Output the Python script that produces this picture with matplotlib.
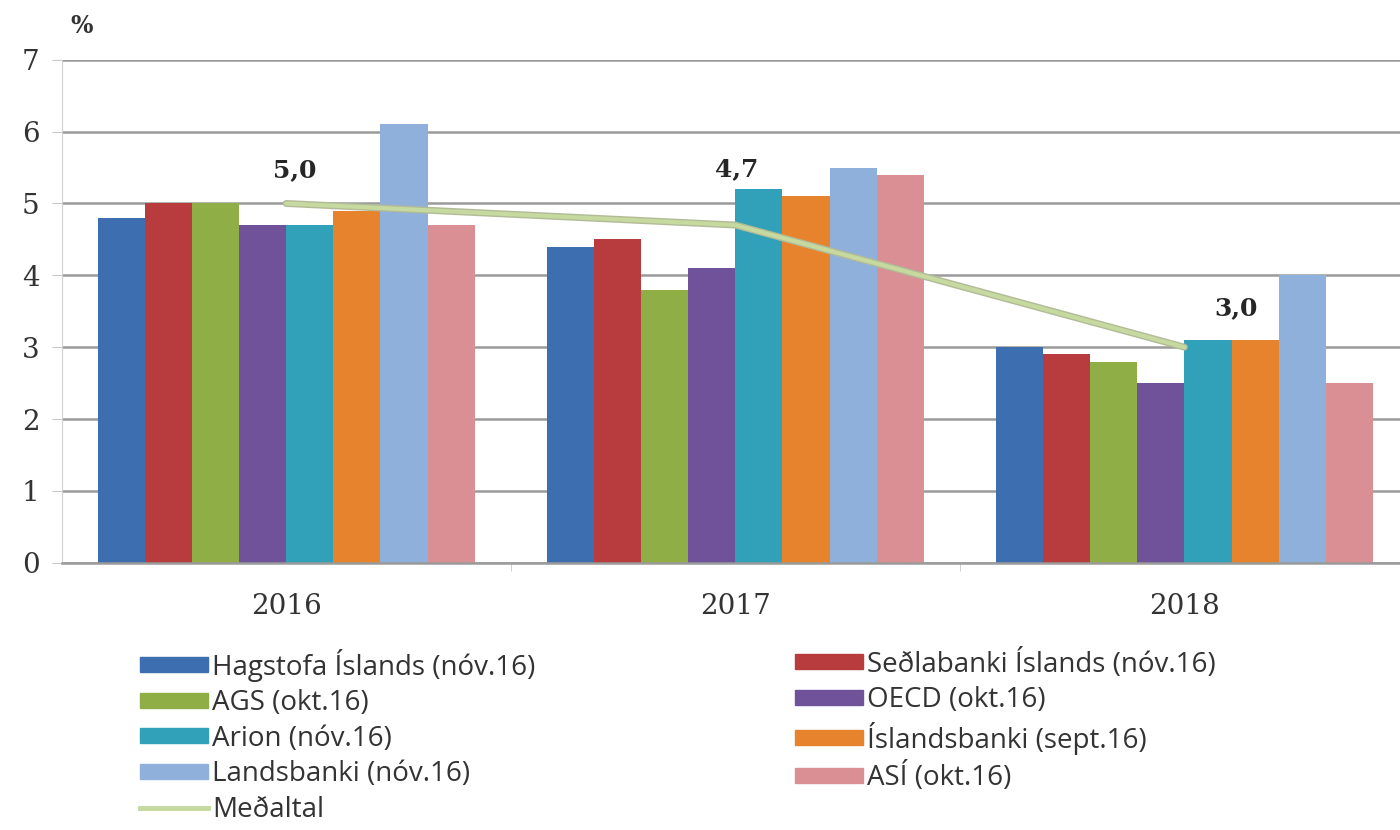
import numpy as np
import matplotlib.pyplot as plt
from matplotlib.patches import Patch
from matplotlib.lines import Line2D

#Gögn lesin af myndinni
years = ['2016', '2017', '2018']
series = ['Hagstofa Íslands (nóv.16)', 'Seðlabanki Íslands (nóv.16)', 'AGS (okt.16)',
          'OECD (okt.16)', 'Arion (nóv.16)', 'Íslandsbanki (sept.16)',
          'Landsbanki (nóv.16)', 'ASÍ (okt.16)']
hagstofa = [4.8, 4.4, 3.0]
sedlabanki = [5.0, 4.5, 2.9]
ags = [5.0, 3.8, 2.8]
oecd = [4.7, 4.1, 2.5]
arion = [4.7, 5.2, 3.1]
islandsbanki = [4.9, 5.1, 3.1]
landsbanki = [6.1, 5.5, 4.0]
asi = [4.7, 5.4, 2.5]
medaltal = [5.0, 4.7, 3.0]
medaltal_labels = ['5,0', '4,7', '3,0']
yticks = [0, 1, 2, 3, 4, 5, 6, 7]

values = [hagstofa, sedlabanki, ags, oecd, arion, islandsbanki, landsbanki, asi]
colors = ['#3d6eb0', '#b83b3d', '#8fae45', '#70529b', '#31a0b9', '#e7832d', '#8fb0da', '#d98f93']
line_color = '#c6d99e'

serif = 'DejaVu Serif'
sans = 'Open Sans'

fig = plt.figure(figsize=(14, 8.3), dpi=100)
ax = fig.add_axes([0.044, 0.322, 0.956, 0.606])

x = np.arange(len(years))
w = 0.105
for i, vals in enumerate(values):
    ax.bar(x + (i - 3.5) * w, vals, width=w, color=colors[i], zorder=2)

#Meðaltal, með daufum skugga eins og í frumritinu
ax.plot(x, medaltal, color='#b2bb98', lw=5, zorder=3, solid_capstyle='round')
ax.plot(x, medaltal, color=line_color, lw=3, zorder=3, solid_capstyle='round')
offsets = [(6, 24), (1, 40), (37, 28)]
for xi, yi, lab, off in zip(x, medaltal, medaltal_labels, offsets):
    ax.annotate(lab, (xi, yi), xytext=off, textcoords='offset points', ha='center', va='center',
                fontsize=18, fontweight='bold', family=serif, color='#262626')

ax.set_ylim(0, 7)
ax.set_xlim(-0.5, 2.48)
ax.set_yticks(yticks)
ax.yaxis.grid(True, color='#9a9a9a', lw=1.8, zorder=0)
ax.set_axisbelow(True)
ax.set_xticks(x)
ax.set_xticklabels(years, family=serif, fontsize=20, color='#333333')
ax.set_xticks([0.5, 1.5], minor=True)
ax.tick_params(axis='x', which='major', length=0, pad=22)
ax.tick_params(axis='x', which='minor', length=6, color='#c8c8c8')
ax.tick_params(axis='y', length=7, color='#c8c8c8', pad=9, labelsize=20)
for lab in ax.get_yticklabels():
    lab.set_family(serif)
    lab.set_color('#333333')

for s in ['top', 'right']:
    ax.spines[s].set_visible(False)
ax.spines['left'].set_color('#d0d0d0')
ax.spines['bottom'].set_color('#9a9a9a')
ax.spines['bottom'].set_linewidth(1.8)

fig.text(0.05, 0.969, '%', family=serif, fontsize=17, fontweight='bold', color='#333333',
         ha='left', va='center')

#Skýringar í tveimur dálkum
col1 = [0, 2, 4, 6]
col2 = [1, 3, 5, 7]
h1 = [Patch(color=colors[i]) for i in col1] + [Line2D([], [], color=line_color, lw=3.5)]
l1 = [series[i] for i in col1] + ['Meðaltal']
h2 = [Patch(color=colors[i]) for i in col2]
l2 = [series[i] for i in col2]
kw = dict(frameon=False, prop={'family': sans, 'size': 20}, handlelength=2.45, handleheight=0.45,
          handletextpad=0.15, labelspacing=0.27, borderaxespad=0, labelcolor='#333333')
leg1 = fig.legend(h1, l1, loc='upper left', bbox_to_anchor=(0.092, 0.232), **kw)
leg2 = fig.legend(h2, l2, loc='upper left', bbox_to_anchor=(0.56, 0.232), **kw)

fig.savefig('out.png', dpi=100, facecolor='white')
